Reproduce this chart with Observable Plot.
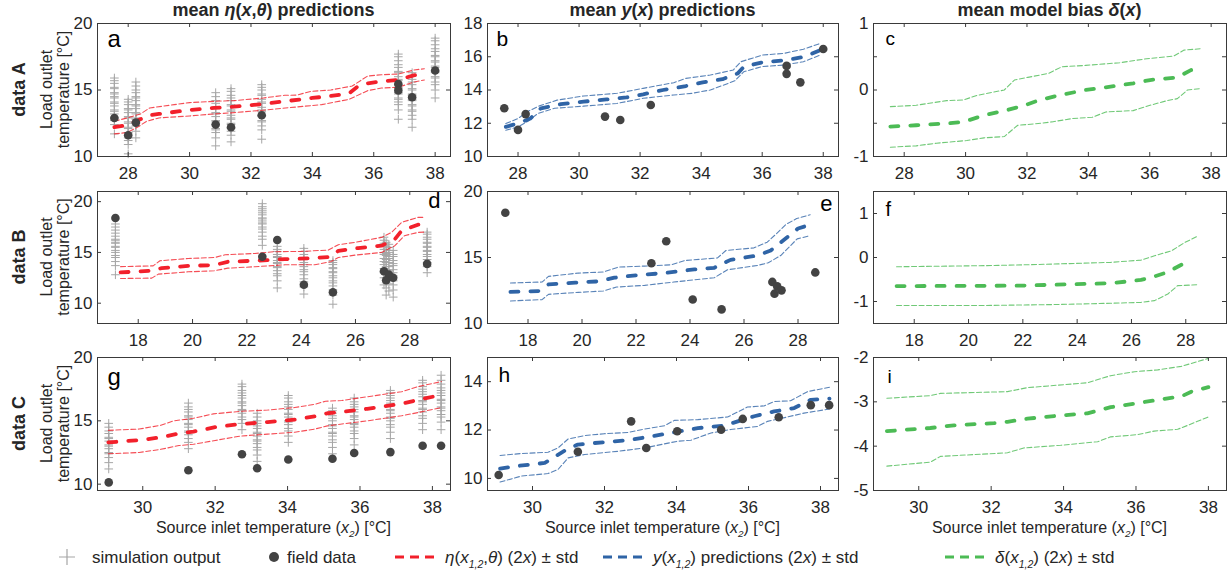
<!DOCTYPE html>
<html><head><meta charset="utf-8">
<script src="https://cdn.jsdelivr.net/npm/d3@7"></script>
<script src="https://cdn.jsdelivr.net/npm/@observablehq/plot@0.6"></script>
<style>
body{margin:0;background:#fff;}
#wrap{position:relative;width:1227px;height:572px;overflow:hidden;background:#fff;}
</style></head><body><div id="wrap"></div>
<script>
// ---------------- DATA ----------------
const rowXTicks = [[28,30,32,34,36,38],[18,20,22,24,26,28],[30,32,34,36,38]];
const rowXDomains = [[27,38.5],[16.5,29.5],[28.75,38.5]];

// simulation output columns (x positions and y values per column)
const simAX = [27.55,28.0,28.25,30.85,31.35,32.35,36.8,37.25,38.0];
const simAY = [
 [11.7,12.4,12.7,12.9,13.2,13.4,13.5,13.8,14.0,14.1,14.4,14.5,14.7,14.8,15.1,15.2,15.5,15.7,15.9],
 [10.2,10.9,11.2,11.4,11.7,11.8,12.1,12.2,12.5,12.6,12.9,13.0,13.3,13.5,13.6,13.9,14.1,14.3],
 [11.4,11.9,12.3,12.5,12.8,12.9,13.2,13.3,13.6,13.8,13.9,14.2,14.4,14.5,14.8,15.0,15.3,15.6],
 [10.8,11.4,11.8,12.0,12.1,12.4,12.6,12.7,13.0,13.2,13.3,13.6,13.7,14.0,14.2,14.5,14.8],
 [11.1,11.6,11.9,12.1,12.4,12.5,12.8,12.9,13.1,13.4,13.5,13.8,13.9,14.2,14.4,14.6,14.9,15.1],
 [11.3,12.0,12.3,12.6,12.7,13.0,13.1,13.4,13.5,13.7,14.0,14.1,14.3,14.6,14.7,15.0,15.2,15.4],
 [12.8,13.5,13.9,14.1,14.3,14.4,14.7,14.8,15.1,15.2,15.4,15.7,15.8,16.0,16.3,16.4,16.7,16.9,17.2,17.5,17.7],
 [12.2,12.8,13.1,13.4,13.5,13.8,13.9,14.2,14.3,14.6,14.7,15.0,15.1,15.4,15.6,15.8,16.1,16.3],
 [14.4,15.0,15.4,15.6,15.9,16.0,16.3,16.4,16.7,16.8,17.1,17.2,17.5,17.6,17.9,18.1,18.4,18.7,18.9]
];
const simBX = [17.16,22.57,23.12,24.1,25.17,27.05,27.13,27.23,27.39,28.64];
const simBY = [
 [12.8,13.7,14.1,14.5,14.7,15.0,15.2,15.5,15.6,15.9,16.0,16.2,16.3,16.6,16.9,17.2,17.5,17.8],
 [15.7,16.3,16.6,17.0,17.3,17.5,17.8,17.9,18.1,18.3,18.4,18.7,18.9,19.1,19.3,19.5,19.8],
 [11.5,12.2,12.7,12.9,13.2,13.5,13.6,13.9,14.0,14.2,14.5,14.6,14.8,15.1,15.3,15.6],
 [10.9,11.6,12.1,12.4,12.8,13.1,13.3,13.6,13.8,14.0,14.3,14.5,14.8,15.1,15.4],
 [9.9,10.8,11.3,11.7,12.0,12.2,12.5,12.7,13.0,13.1,13.4,13.5,13.8,14.0,14.2],
 [11.8,12.5,13.0,13.4,13.8,14.1,14.4,14.8,15.0,15.3,15.7,15.9,16.2,16.5],
 [10.8,11.5,12.0,12.5,12.8,13.3,13.6,14.0,14.3,14.7,14.9,15.3,15.6,16.0],
 [11.2,11.9,12.4,12.9,13.2,13.6,14.0,14.4,14.6,15.0,15.2,15.5,15.8],
 [10.6,11.3,11.8,12.2,12.7,13.0,13.3,13.7,13.9,14.2,14.6,14.8,15.2],
 [13.0,13.6,14.0,14.3,14.6,14.8,15.1,15.2,15.5,15.6,15.9,16.0,16.3,16.5,16.8,17.0]
];
const simCX = [29.06,31.26,32.74,33.16,34.02,35.24,35.84,36.84,37.73,38.24];
const simCY = [
 [11.2,11.7,12.1,12.4,12.5,12.8,13.0,13.1,13.4,13.6,13.7,14.0,14.2,14.5,14.8],
 [12.8,13.3,13.6,13.9,14.1,14.2,14.5,14.7,14.8,15.1,15.3,15.4,15.7,15.9,16.1,16.4],
 [14.3,14.8,15.1,15.3,15.6,15.8,15.9,16.2,16.4,16.5,16.8,17.0,17.2,17.4,17.7,17.9],
 [11.8,12.3,12.7,12.9,13.2,13.4,13.5,13.8,14.0,14.1,14.4,14.6,14.8,15.0,15.3,15.6],
 [13.3,13.8,14.2,14.4,14.7,14.9,15.0,15.3,15.5,15.6,15.9,16.1,16.3,16.5,16.8,17.0],
 [12.4,12.9,13.3,13.5,13.8,14.0,14.1,14.4,14.6,14.7,15.0,15.2,15.4,15.6,15.8,16.0],
 [13.1,13.6,14.0,14.2,14.5,14.7,14.8,15.1,15.3,15.4,15.7,15.9,16.1,16.3,16.5,16.8],
 [13.6,14.1,14.5,14.7,15.0,15.2,15.3,15.6,15.8,15.9,16.2,16.4,16.6,16.8,17.0,17.2,17.4],
 [14.3,14.8,15.2,15.4,15.7,15.9,16.0,16.3,16.5,16.6,16.9,17.1,17.3,17.5,17.7,18.0,18.2],
 [14.3,14.9,15.3,15.5,15.8,16.0,16.1,16.4,16.6,16.7,17.0,17.2,17.4,17.6,17.9,18.2,18.6]
];

// field data
const fieldAX = [27.55,28.0,28.25,30.85,31.35,32.35,36.8,36.8,37.25,38.0];
const fieldAY = [12.9,11.6,12.55,12.4,12.2,13.1,15.45,14.97,14.46,16.47];
const fieldBX = [17.16,22.57,23.12,24.1,25.17,27.05,27.23,27.13,27.39,28.64];
const fieldBY = [18.39,14.57,16.23,11.82,11.07,13.15,12.81,12.26,12.51,13.87];
const fieldCX = [29.06,31.26,32.74,33.16,34.02,35.24,35.84,36.84,37.73,38.24];
const fieldCY = [10.14,11.1,12.36,11.26,11.95,12.01,12.46,12.53,13.03,13.03];

// eta predictions (red)
const etaA_mean = [[27.55,12.2],[27.95,12.35],[28.3,12.7],[28.7,13.1],[29.0,13.2],[30.0,13.5],[30.8,13.65],[31.45,13.75],[32.4,13.95],[33.1,14.15],[34.0,14.4],[34.6,14.55],[35.2,14.75],[35.5,15.3],[35.8,15.5],[36.25,15.65],[36.8,15.75],[37.3,16.1],[37.65,16.2]];
const etaA_up = [[27.55,12.65],[28.05,12.95],[28.4,13.2],[28.7,13.65],[29.5,13.9],[30.0,14.05],[30.8,14.15],[31.45,14.2],[32.4,14.4],[33.1,14.6],[33.5,14.62],[33.95,14.9],[34.6,15.0],[35.3,15.3],[35.8,16.05],[36.25,16.15],[36.8,16.2],[37.3,16.5],[37.65,16.6]];
const etaA_lo = [[27.55,11.7],[27.95,11.8],[28.3,12.2],[28.6,12.65],[29.0,12.9],[30.0,13.05],[30.8,13.2],[31.45,13.3],[32.5,13.5],[33.6,13.75],[34.3,13.9],[35.2,14.3],[35.8,14.95],[36.25,15.15],[36.8,15.2],[37.3,15.6],[37.65,15.75]];
const etaB_mean = [[17.35,13.03],[18.5,13.19],[18.86,13.45],[19.84,13.68],[20.8,13.75],[21.3,14.08],[22.3,14.18],[23.4,14.34],[24.5,14.44],[25.1,14.57],[25.37,15.16],[26.1,15.43],[26.96,15.66],[27.45,16.3],[27.7,17.14],[28.3,17.73],[28.55,17.78]];
const etaB_up = [[17.35,13.6],[18.55,13.68],[18.8,14.18],[19.84,14.4],[20.82,14.5],[21.2,14.77],[22.3,14.9],[23.0,15.07],[24.0,15.1],[25.0,15.23],[25.37,15.76],[26.0,16.0],[26.96,16.48],[27.33,16.97],[27.7,17.96],[28.3,18.45],[28.55,18.45]];
const etaB_lo = [[17.35,12.43],[18.5,12.47],[18.74,12.86],[19.84,13.09],[20.8,13.19],[21.3,13.45],[22.3,13.59],[23.4,13.78],[24.5,13.78],[25.1,14.1],[25.37,14.5],[26.0,14.74],[26.96,15.0],[27.45,15.66],[27.8,16.64],[28.3,16.97],[28.55,17.0]];
const etaC_mean = [[29.05,13.3],[30.0,13.5],[30.5,13.7],[31.0,14.0],[31.4,14.15],[32.0,14.5],[32.7,14.75],[33.45,14.9],[34.2,15.1],[34.75,15.35],[35.1,15.6],[35.5,15.7],[36.2,15.95],[37.15,16.35],[37.6,16.65],[38.25,17.05]];
const etaC_up = [[29.05,14.25],[29.9,14.35],[30.5,14.65],[30.85,15.0],[31.4,15.2],[31.95,15.55],[32.7,15.75],[33.45,15.85],[34.2,16.05],[34.75,16.3],[35.05,16.55],[35.5,16.6],[36.2,16.9],[37.15,17.3],[37.6,17.7],[38.25,18.1]];
const etaC_lo = [[29.05,12.4],[29.9,12.5],[30.5,12.75],[31.0,13.05],[31.4,13.15],[32.0,13.45],[32.7,13.8],[33.45,13.95],[34.2,14.1],[34.75,14.35],[35.1,14.6],[35.5,14.75],[36.2,15.0],[37.15,15.4],[37.6,15.65],[38.25,16.05]];

// y predictions (blue)
const yA_mean = [[27.6,11.78],[28.0,12.0],[28.4,12.28],[28.75,12.9],[29.4,13.15],[30.15,13.3],[30.9,13.43],[31.55,13.55],[32.1,13.74],[32.75,14.0],[33.5,14.24],[34.05,14.46],[34.7,14.65],[35.2,15.0],[35.4,15.4],[36.0,15.66],[36.8,15.8],[37.4,16.0],[37.9,16.4]];
const yA_up = [[27.6,11.98],[28.0,12.28],[28.3,12.69],[28.68,13.03],[29.28,13.39],[30.15,13.64],[31.24,13.8],[32.1,14.1],[33.1,14.44],[33.5,14.7],[34.3,14.9],[35.05,15.2],[35.3,15.7],[36.0,16.1],[36.7,16.2],[37.35,16.45],[37.9,16.8]];
const yA_lo = [[27.6,11.58],[28.0,11.78],[28.35,12.15],[28.65,12.59],[29.2,12.9],[30.15,13.03],[31.24,13.19],[32.1,13.5],[33.1,13.7],[33.7,13.8],[34.3,14.0],[35.1,14.55],[35.4,15.1],[36.0,15.41],[36.7,15.5],[37.35,15.7],[37.9,16.1]];
const yB_mean = [[17.35,12.39],[18.4,12.46],[18.76,12.96],[19.75,13.09],[20.6,13.19],[21.2,13.47],[22.08,13.67],[23.06,13.82],[24.16,14.1],[24.9,14.22],[25.5,14.82],[26.5,15.15],[26.99,15.53],[27.6,16.53],[28.0,17.2],[28.4,17.45]];
const yB_up = [[17.35,13.07],[18.52,13.14],[18.76,13.57],[19.87,13.82],[20.79,13.9],[21.34,14.27],[22.32,14.35],[23.3,14.45],[23.8,14.77],[25.02,14.97],[25.33,15.53],[26.37,15.73],[26.86,16.16],[27.2,16.8],[27.55,17.5],[27.95,17.95],[28.45,18.24]];
const yB_lo = [[17.35,11.71],[18.52,11.81],[18.76,12.21],[19.87,12.36],[20.79,12.46],[21.28,12.76],[22.32,12.89],[23.4,13.14],[24.9,13.47],[25.39,14.07],[26.5,14.4],[26.9,14.6],[27.36,15.15],[27.97,16.41],[28.45,16.66]];
const yC_mean = [[29.1,10.4],[29.5,10.5],[30.34,10.64],[30.94,11.19],[31.26,11.4],[32.0,11.5],[32.65,11.58],[33.3,11.74],[33.85,11.88],[34.59,12.08],[35.33,12.18],[35.7,12.36],[36.16,12.57],[36.71,12.77],[37.27,12.91],[37.73,13.25],[38.25,13.3]];
const yC_up = [[29.1,10.95],[29.7,11.03],[30.43,11.08],[30.71,11.26],[30.99,11.63],[31.45,11.77],[32.0,11.85],[32.65,11.9],[33.11,12.04],[33.67,12.18],[33.94,12.4],[34.59,12.43],[35.42,12.54],[35.97,12.95],[36.44,13.0],[36.71,13.18],[37.17,13.21],[37.64,13.59],[38.25,13.77]];
const yC_lo = [[29.1,9.85],[29.7,10.1],[30.43,10.2],[30.71,10.37],[30.99,10.85],[31.45,10.99],[32.37,11.12],[33.11,11.26],[34.04,11.54],[34.4,11.58],[34.96,11.88],[35.5,12.02],[36.25,12.15],[36.53,12.36],[37.08,12.54],[37.54,12.7],[38.25,12.87]];

// model bias delta (green)
const dA_mean = [[27.55,-0.55],[28.39,-0.53],[29.49,-0.5],[29.93,-0.48],[30.6,-0.38],[31.37,-0.3],[31.92,-0.23],[32.36,-0.16],[33.03,-0.08],[33.91,0.0],[34.57,0.04],[35.46,0.1],[36.01,0.15],[36.9,0.19],[37.34,0.3],[37.64,0.32]];
const dA_up = [[27.55,-0.25],[28.39,-0.23],[29.38,-0.16],[29.93,-0.15],[30.38,-0.08],[31.26,0.0],[31.59,0.15],[32.03,0.19],[32.7,0.25],[33.14,0.35],[33.91,0.37],[35.02,0.41],[35.9,0.47],[36.78,0.51],[37.12,0.6],[37.64,0.62]];
const dA_lo = [[27.55,-0.86],[28.39,-0.84],[29.05,-0.8],[30.04,-0.76],[30.6,-0.72],[31.26,-0.7],[31.7,-0.53],[32.25,-0.51],[32.81,-0.48],[33.47,-0.43],[34.13,-0.41],[34.57,-0.33],[35.46,-0.31],[36.01,-0.23],[36.56,-0.16],[36.9,-0.13],[37.23,0.0],[37.64,0.02]];
const dB_mean = [[17.35,-0.65],[21.9,-0.64],[25.24,-0.585],[26.35,-0.51],[26.8,-0.44],[27.3,-0.34],[27.95,-0.13],[28.1,-0.1]];
const dB_up = [[17.35,-0.21],[20.66,-0.185],[22.5,-0.16],[25.24,-0.11],[26.35,-0.06],[26.85,0.04],[27.47,0.15],[27.96,0.34],[28.46,0.49]];
const dB_lo = [[17.35,-1.09],[20.66,-1.09],[23.14,-1.07],[25.24,-1.04],[26.35,-1.02],[26.85,-0.98],[27.34,-0.83],[27.7,-0.64],[28.4,-0.62]];
const dC_mean = [[29.12,-3.66],[30.32,-3.59],[30.97,-3.53],[32.08,-3.48],[32.45,-3.45],[33.0,-3.38],[33.74,-3.32],[34.66,-3.26],[35.3,-3.12],[35.96,-3.04],[36.88,-2.92],[37.25,-2.88],[37.53,-2.77],[38.0,-2.67]];
const dC_up = [[29.12,-2.92],[30.32,-2.86],[30.6,-2.81],[32.45,-2.77],[33.0,-2.68],[34.66,-2.57],[35.3,-2.41],[35.96,-2.32],[36.6,-2.28],[37.25,-2.2],[38.0,-2.02]];
const dC_lo = [[29.12,-4.45],[30.32,-4.36],[30.6,-4.23],[32.45,-4.15],[32.9,-4.04],[33.92,-3.98],[34.94,-3.9],[35.3,-3.79],[36.05,-3.74],[36.5,-3.66],[37.15,-3.62],[37.43,-3.53],[38.0,-3.34]];

// y axes per panel
const yDomains = [[[10,20],[10,18],[-1,1]],[[8,21],[10,20],[-1.5,1.5]],[[9.5,20],[9.5,15],[-5,-2]]];
const yTickMarks = [[[10,15,20],[10,12,14,16,18],[-1,-0.5,0,0.5,1]],[[10,15,20],[10,15,20],[-1,0,1]],[[10,15,20],[10,12,14],[-5,-4,-3,-2]]];
const yTickLabels = [[[10,15,20],[10,12,14,16,18],[-1,0,1]],[[10,15,20],[10,15,20],[-1,0,1]],[[10,15,20],[10,12,14],[-5,-4,-3,-2]]];
const panelLetters = [["a","b","c"],["d","e","f"],["g","h","i"]];

// text
const colTitles = [
  [["mean ",0],["η",1],["(",0],["x",1],[",",0],["θ",1],[") predictions",0]],
  [["mean ",0],["y",1],["(",0],["x",1],[") predictions",0]],
  [["mean model bias ",0],["δ",1],["(",0],["x",1],[")",0]]
];
const rowNames = ["data A","data B","data C"];

// ---------------- LAYOUT ----------------
const FONT = '"Liberation Sans", Arial, Helvetica, sans-serif';
const COLS = [{left:97,w:353},{left:487,w:351},{left:873,w:353}];
const ROWS = [{top:23,h:133},{top:191,h:132},{top:357,h:133}];
const RED = "#f2202b", BLUE = "#2f64a6", GREEN = "#4cbb55";
const AX = "#3a3a3a", TXT = "#262626";
const wrap = document.getElementById("wrap");

const toTable = (xs, ys) => xs.flatMap((x,i) => ys[i].map(y => ({x, y})));
const toPts = (xs, ys) => xs.map((x,i) => ({x, y: ys[i]}));

const sims = [toTable(simAX,simAY), toTable(simBX,simBY), toTable(simCX,simCY)];
const fields = [toPts(fieldAX,fieldAY), toPts(fieldBX,fieldBY), toPts(fieldCX,fieldCY)];
const lines = [
  [[etaA_mean,etaA_up,etaA_lo],[yA_mean,yA_up,yA_lo],[dA_mean,dA_up,dA_lo]],
  [[etaB_mean,etaB_up,etaB_lo],[yB_mean,yB_up,yB_lo],[dB_mean,dB_up,dB_lo]],
  [[etaC_mean,etaC_up,etaC_lo],[yC_mean,yC_up,yC_lo],[dC_mean,dC_up,dC_lo]]
];
const colColors = [RED, BLUE, GREEN];
const letterCfg = {
  a:{anchor:"top-left",dx:10,dy:6,size:24}, b:{anchor:"top-left",dx:9,dy:8,size:21}, c:{anchor:"top-left",dx:12,dy:8,size:19},
  d:{anchor:"top-right",dx:-10,dy:1,size:22}, e:{anchor:"top-right",dx:-6,dy:4,size:22}, f:{anchor:"top-left",dx:12,dy:10,size:20},
  g:{anchor:"top-left",dx:10,dy:10,size:24}, h:{anchor:"top-left",dx:11,dy:10,size:21}, i:{anchor:"top-left",dx:14,dy:12,size:19}
};

for (let r = 0; r < 3; r++) for (let c = 0; c < 3; c++) {
  const W = COLS[c].w, H = ROWS[r].h;
  const mL = 46, mR = 12, mT = 10, mB = 34;
  const color = colColors[c];
  const [mean, up, lo] = lines[r][c];
  const L = panelLetters[r][c], lc = letterCfg[L];
  const xT = rowXTicks[r];
  const marks = [];
  if (c === 0) marks.push(Plot.dot(sims[r], {x:"x", y:"y", symbol:"plus", r:2.9, stroke:"#a6a6a6", strokeWidth:1}));
  marks.push(Plot.line(up, {x:d=>d[0], y:d=>d[1], stroke:color, strokeWidth:1.1, strokeDasharray:"5,2.5", strokeOpacity:0.8}));
  marks.push(Plot.line(lo, {x:d=>d[0], y:d=>d[1], stroke:color, strokeWidth:1.1, strokeDasharray:"5,2.5", strokeOpacity:0.8}));
  marks.push(Plot.line(mean, {x:d=>d[0], y:d=>d[1], stroke:color, strokeWidth:3.8, strokeDasharray:"8,12", strokeLinecap:"round"}));
  if (c < 2) marks.push(Plot.dot(fields[r], {x:"x", y:"y", r:4.3, fill:"#434343", stroke:"none"}));
  marks.push(Plot.frame({stroke:AX}));
  marks.push(Plot.tickX(xT, {x:d=>d, insetTop:H-4, stroke:AX}));
  marks.push(Plot.tickX(xT, {x:d=>d, insetBottom:H-4, stroke:AX}));
  marks.push(Plot.tickY(yTickMarks[r][c], {y:d=>d, insetRight:W-4, stroke:AX}));
  marks.push(Plot.tickY(yTickMarks[r][c], {y:d=>d, insetLeft:W-4, stroke:AX}));
  marks.push(Plot.axisX(xT, {anchor:"bottom", tickSize:0, tickPadding:10, fontSize:17, color:TXT, label:null, tickFormat:d=>String(d)}));
  marks.push(Plot.axisY(yTickLabels[r][c], {anchor:"left", tickSize:0, tickPadding:5, fontSize:17, color:TXT, label:null, tickFormat:d=>String(d)}));
  marks.push(Plot.text([L], {text:d=>d, frameAnchor:lc.anchor, dx:lc.dx, dy:lc.dy, fontSize:lc.size, lineAnchor:"top", textAnchor: lc.anchor==="top-right" ? "end" : "start", fill:"#000"}));
  const chart = Plot.plot({
    width: W+mL+mR, height: H+mT+mB, marginLeft:mL, marginRight:mR, marginTop:mT, marginBottom:mB,
    x:{domain: rowXDomains[r]}, y:{domain: yDomains[r][c]},
    style:{fontFamily:FONT, fontSize:"17px", background:"transparent", overflow:"visible", color:TXT},
    marks
  });
  chart.style.position = "absolute";
  chart.style.left = (COLS[c].left - mL) + "px";
  chart.style.top = (ROWS[r].top - mT) + "px";
  wrap.appendChild(chart);
}

// ---------------- TEXT OVERLAY ----------------
const ov = d3.select(wrap).append("svg").attr("width",1227).attr("height",572)
  .style("position","absolute").style("left","0px").style("top","0px").style("font-family",FONT);

function rich(x, y, segs, o) {
  const t = ov.append("text").attr("x",x).attr("y",y).attr("font-size",o.size)
    .attr("text-anchor",o.anchor||"start").attr("fill",o.fill||"#000");
  if (o.bold) t.attr("font-weight","bold");
  if (o.rotate) t.attr("transform",`rotate(-90 ${x} ${y})`);
  let shifted = 0;
  for (const s of segs) {
    const [txt, it, sub] = s;
    const ts = t.append("tspan").text(txt);
    if (it) ts.attr("font-style","italic");
    const want = sub ? o.size*0.28 : 0;
    if (want !== shifted) { ts.attr("dy", want - shifted); shifted = want; }
    if (sub) ts.attr("font-size", o.size*0.62);
  }
  return t;
}

for (let c = 0; c < 3; c++) {
  const cx = COLS[c].left + COLS[c].w/2;
  rich(cx, 16, colTitles[c], {size:18, bold:true, anchor:"middle", fill:TXT});
  rich(cx, 533, [["Source inlet temperature (",0],["x",1],["2",1,1],[") [°C]",0]], {size:16, anchor:"middle", fill:TXT});
}
for (let r = 0; r < 3; r++) {
  const cy = ROWS[r].top + ROWS[r].h/2;
  rich(25, cy, [[rowNames[r],0]], {size:18, bold:true, anchor:"middle", rotate:true, fill:TXT});
  rich(52, cy, [["Load outlet",0]], {size:16, anchor:"middle", rotate:true, fill:TXT});
  rich(69, cy, [["temperature [°C]",0]], {size:16, anchor:"middle", rotate:true, fill:TXT});
}

// legend
const LY = 557;
ov.append("path").attr("d",`M59,${LY}h16M67,${LY-8}v16`).attr("stroke","#a6a6a6").attr("stroke-width",1.2).attr("fill","none");
rich(92, LY+6, [["simulation output",0]], {size:17, fill:TXT});
ov.append("circle").attr("cx",274).attr("cy",LY).attr("r",5).attr("fill","#434343");
rich(287, LY+6, [["field data",0]], {size:17, fill:TXT});
const legDash = (x0, x1, col) => ov.append("line").attr("x1",x0).attr("x2",x1).attr("y1",LY).attr("y2",LY)
  .attr("stroke",col).attr("stroke-width",3.2).attr("stroke-dasharray","9,6");
legDash(395, 437, RED);
rich(445, LY+6, [["η",1],["(",0],["x",1],["1,2",1,1],[",",0],["θ",1],[") (2",0],["x",1],[") ± std",0]], {size:17, fill:TXT});
legDash(603, 645, BLUE);
rich(653, LY+6, [["y",1],["(",0],["x",1],["1,2",1,1],[") predictions (2",0],["x",1],[") ± std",0]], {size:17, fill:TXT});
legDash(945, 987, GREEN);
rich(995, LY+6, [["δ",1],["(",0],["x",1],["1,2",1,1],[") (2",0],["x",1],[") ± std",0]], {size:17, fill:TXT});
</script></body></html>
